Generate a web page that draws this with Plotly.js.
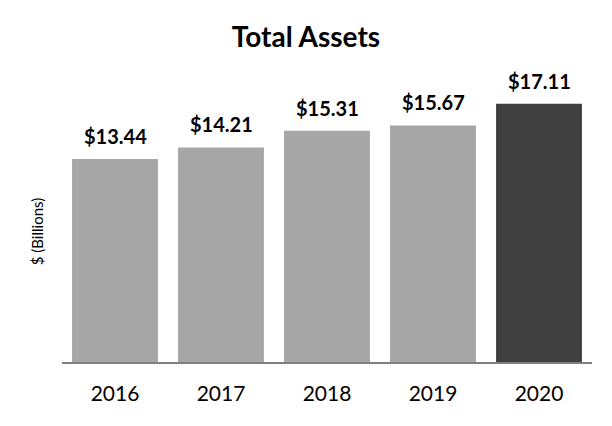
<!DOCTYPE html>
<html><head><meta charset="utf-8">
<script src="https://cdn.plot.ly/plotly-3.0.1.min.js"></script>
<style>html,body{margin:0;padding:0;background:#fff}</style>
</head><body>
<div id="chart" style="width:612px;height:426px"></div>
<script>
const years = ['2016','2017','2018','2019','2020'];
const assets = [13.44, 14.21, 15.31, 15.67, 17.11];
const labels = ['$13.44','$14.21','$15.31','$15.67','$17.11'];
const barColors = ['#a6a6a6','#a6a6a6','#a6a6a6','#a6a6a6','#404040'];
const yTitle = '$ (Billions)';
const FONT = 'Lato, "Open Sans", sans-serif';

const trace = {
  type: 'bar', x: years, y: assets,
  marker: {color: barColors, line: {width: 0}},
  hoverinfo: 'none'
};
const annotations = years.map((yr, i) => ({
  x: i, y: assets[i], text: '<b>' + labels[i] + '</b>',
  showarrow: false, yanchor: 'bottom', yshift: 9,
  xref: 'x', yref: 'y',
  font: {family: FONT, size: 20, color: '#000'}
}));
annotations.push({
  xref: 'paper', yref: 'paper', x: -0.047, y: 0.43, xanchor: 'center', yanchor: 'middle',
  text: yTitle, textangle: -90, showarrow: false,
  font: {family: FONT, size: 15, color: '#000'}
});
const layout = {
  width: 612, height: 426,
  margin: {l: 62, r: 20, t: 60, b: 64},
  paper_bgcolor: '#fff', plot_bgcolor: '#fff',
  bargap: 0.19,
  showlegend: false,
  title: {text: '<b>Total Assets</b>', x: 0.5, xanchor: 'center', y: 0.912, yanchor: 'middle',
          font: {family: FONT, size: 28, color: '#000'}},
  xaxis: {type: 'category', range: [-0.5, 4.5], showline: true, linecolor: '#7f7f7f', linewidth: 2,
          ticks: 'outside', ticklen: 12, tickcolor: 'rgba(0,0,0,0)', showgrid: false, zeroline: false,
          tickfont: {family: FONT, size: 21, color: '#000'}},
  yaxis: {range: [0, 20], showticklabels: false, showgrid: false, zeroline: false,
          showline: false, ticks: ''},
  annotations: annotations
};
Plotly.newPlot('chart', [trace], layout, {staticPlot: true});
</script>
</body></html>
